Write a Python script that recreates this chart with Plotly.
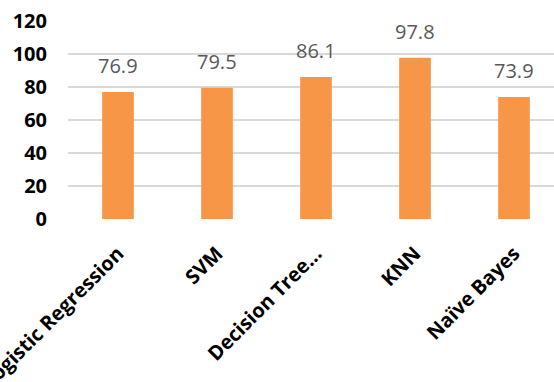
import plotly.graph_objects as go

categories = ["Logistic Regression", "SVM", "Decision Tree...", "KNN", "Naïve Bayes"]
values = [76.9, 79.5, 86.1, 97.8, 73.9]
labels = ["76.9", "79.5", "86.1", "97.8", "73.9"]
y_ticks = [0, 20, 40, 60, 80, 100, 120]

FONT = "Open Sans"

fig = go.Figure()
fig.add_trace(go.Bar(
    x=categories,
    y=values,
    width=0.32,
    marker=dict(color="#F79646", line=dict(width=0)),
))

for c, v, t in zip(categories, values, labels):
    fig.add_annotation(
        x=c, y=v, text=t, showarrow=False,
        xanchor="center", yanchor="bottom", yshift=11,
        font=dict(family=FONT, size=20, color="#595959"),
    )

fig.update_layout(
    width=554, height=382,
    margin=dict(l=68, r=0, t=21, b=163, autoexpand=False),
    paper_bgcolor="white", plot_bgcolor="white",
    showlegend=False,
    xaxis=dict(
        range=[-0.505, 4.404],
        tickangle=-45,
        tickfont=dict(family=FONT, size=20, color="#000000", weight="bold"),
        showgrid=False, showline=False, zeroline=False,
        automargin=False,
        ticks="", ticklabelstandoff=18,
    ),
    yaxis=dict(
        range=[0, 120],
        tickvals=y_ticks,
        ticktext=[str(v) for v in y_ticks],
        tickfont=dict(family=FONT, size=20, color="#000000", weight="bold"),
        showgrid=True, gridcolor="#D9D9D9", gridwidth=2,
        zeroline=False, showline=False,
        automargin=False,
        ticks="", ticklabelstandoff=20,
    ),
)

fig.write_html("out.html")
